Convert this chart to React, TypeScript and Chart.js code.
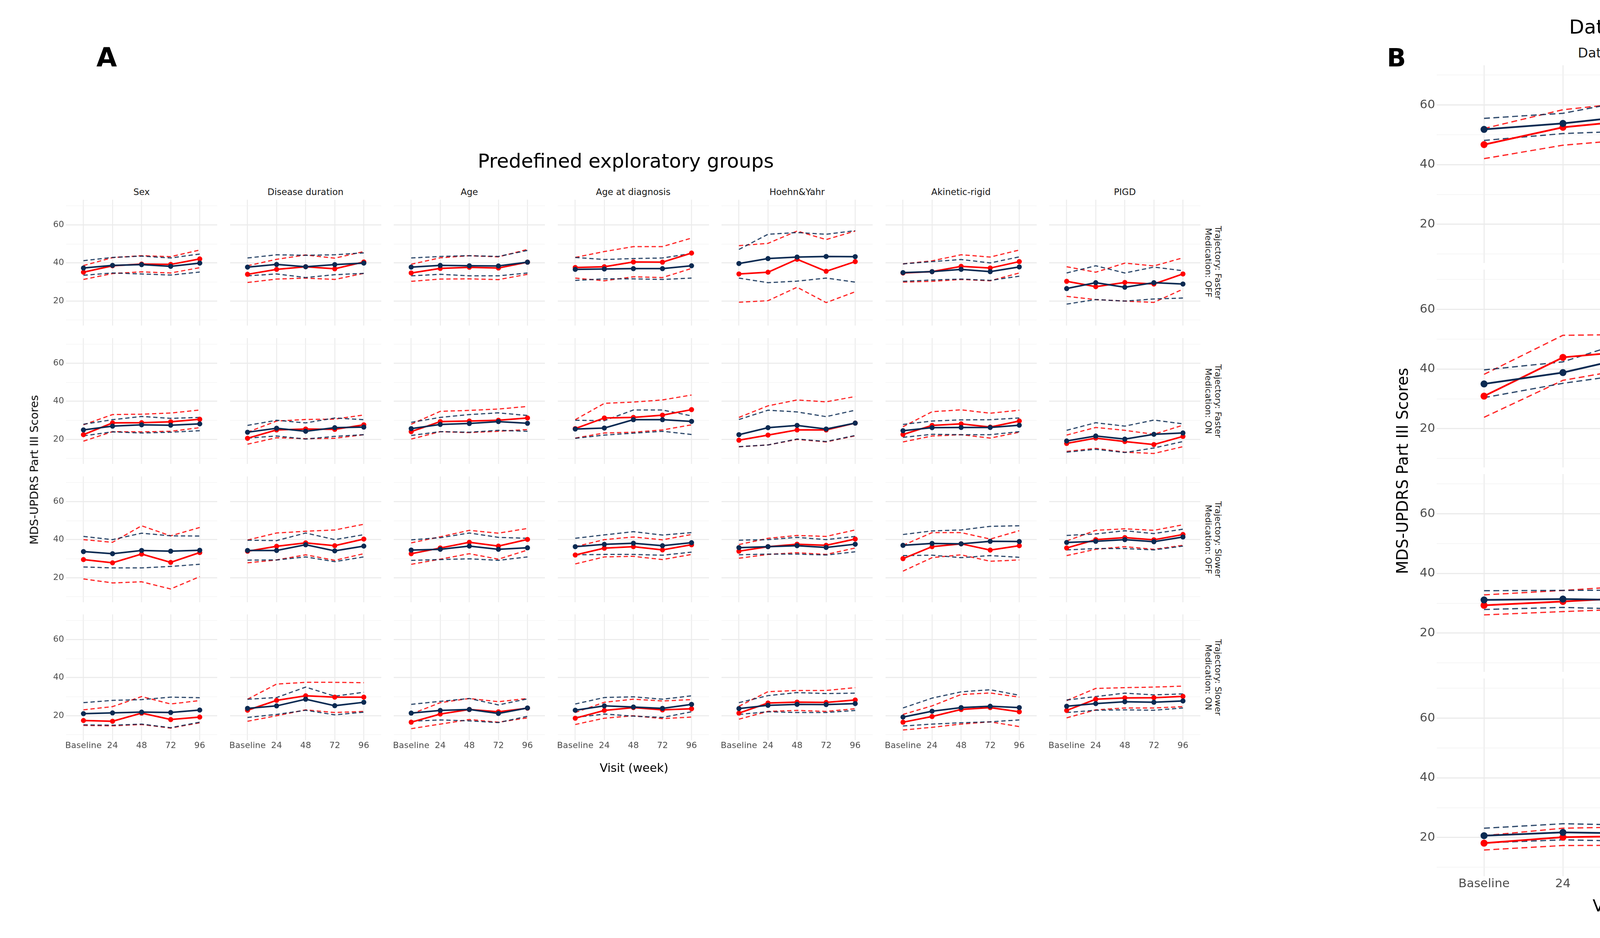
import React, { useEffect, useRef } from 'react';
import { Chart, registerables } from 'chart.js';

Chart.register(...registerables);
Chart.defaults.font.family = "'DejaVu Sans', sans-serif";

// ---------- labels ----------
const VISITS = ['Baseline', '24', '48', '72', '96'];
const Y_GRID = [10, 20, 30, 40, 50, 60, 70];
const Y_LABELS = [20, 40, 60];
const COL_LABELS = ['Sex', 'Disease duration', 'Age', 'Age at diagnosis', 'Hoehn&Yahr', 'Akinetic-rigid', 'PIGD'];
const ROW_LABELS = [
  ['Trajectory: Faster', 'Medication: OFF'],
  ['Trajectory: Faster', 'Medication: ON'],
  ['Trajectory: Slower', 'Medication: OFF'],
  ['Trajectory: Slower', 'Medication: ON'],
];
const Y_MIN = 7;
const Y_MAX = 73.3;

type Facet = { exe: number[]; exeLo: number[]; exeHi: number[]; pla: number[]; plaLo: number[]; plaHi: number[] };

// ---------- Panel A, row 1: Faster / OFF ----------
const SEX_F_OFF: Facet = { exe: [35.1, 38.5, 39.4, 39.2, 42.1], exeLo: [31.3, 34.4, 35.3, 34.7, 37.5], exeHi: [38.6, 42.8, 43.8, 43.3, 46.8], pla: [37.3, 38.7, 39.1, 38.2, 39.9], plaLo: [33.5, 34.7, 34.2, 33.6, 35.2], plaHi: [41.2, 42.9, 43.6, 42.6, 44.7] };
const DUR_F_OFF: Facet = { exe: [34.0, 36.6, 38.0, 36.9, 40.5], exeLo: [29.7, 31.5, 32.0, 31.3, 34.5], exeHi: [38.5, 41.9, 44.2, 42.5, 46.0], pla: [37.8, 39.2, 38.0, 39.1, 39.9], plaLo: [33.2, 34.2, 32.3, 33.8, 34.5], plaHi: [42.6, 44.3, 44.0, 44.3, 45.3] };
const AGE_F_OFF: Facet = { exe: [34.7, 37.1, 37.7, 37.3, 40.4], exeLo: [30.3, 31.5, 31.6, 31.2, 34.0], exeHi: [39.3, 42.7, 43.8, 43.2, 47.1], pla: [37.8, 38.7, 38.5, 38.4, 40.4], plaLo: [33.2, 34.0, 33.2, 33.2, 34.7], plaHi: [42.6, 43.4, 43.8, 43.4, 46.6] };
const AGED_F_OFF: Facet = { exe: [37.6, 38.0, 40.5, 40.4, 45.2], exeLo: [32.0, 30.6, 32.7, 32.3, 37.1], exeHi: [42.9, 46.0, 48.6, 48.6, 53.1], pla: [36.6, 36.8, 37.0, 37.0, 38.5], plaLo: [30.8, 31.6, 31.6, 31.3, 32.0], plaHi: [42.9, 41.8, 42.3, 42.6, 45.0] };
const HY_F_OFF: Facet = { exe: [34.2, 35.1, 41.9, 35.6, 40.7], exeLo: [19.3, 20.1, 27.2, 19.1, 24.8], exeHi: [49.1, 50.3, 56.8, 52.3, 56.8], pla: [39.7, 42.3, 43.1, 43.4, 43.3], plaLo: [32.0, 29.6, 30.4, 32.0, 29.9], plaHi: [47.1, 55.1, 56.0, 55.1, 57.0] };
const AR_F_OFF: Facet = { exe: [34.7, 35.4, 38.2, 37.3, 40.7], exeLo: [29.9, 30.3, 31.3, 30.6, 34.7], exeHi: [39.5, 41.1, 44.3, 43.1, 46.8], pla: [34.9, 35.4, 36.6, 35.4, 37.9], plaLo: [30.3, 31.0, 31.5, 30.8, 33.0], plaHi: [39.5, 40.7, 41.8, 40.0, 43.2] };
const PIGD_F_OFF: Facet = { exe: [30.3, 27.5, 29.7, 28.9, 34.2], exeLo: [22.4, 20.7, 19.9, 19.2, 26.2], exeHi: [38.0, 35.1, 39.9, 38.4, 42.7], pla: [26.5, 29.6, 27.2, 29.6, 28.9], plaLo: [18.3, 20.7, 19.9, 21.0, 21.5], plaHi: [34.7, 38.5, 34.7, 37.8, 35.9] };

// ---------- Panel A, row 2: Faster / ON ----------
const SEX_F_ON: Facet = { exe: [22.4, 28.6, 28.7, 29.2, 30.5], exeLo: [19.0, 24.0, 23.9, 24.2, 26.1], exeHi: [27.6, 33.0, 33.2, 33.8, 35.4], pla: [24.9, 26.9, 27.6, 27.4, 28.1], plaLo: [21.8, 23.9, 23.3, 23.7, 24.5], plaHi: [27.9, 30.3, 32.0, 31.0, 31.5] };
const DUR_F_ON: Facet = { exe: [20.5, 24.9, 25.4, 25.2, 27.6], exeLo: [17.4, 20.8, 20.3, 20.5, 22.4], exeHi: [23.7, 29.6, 30.4, 30.6, 32.8], pla: [23.7, 25.8, 24.2, 26.1, 26.4], plaLo: [20.6, 21.7, 20.1, 21.5, 22.4], plaHi: [27.3, 30.0, 28.6, 31.2, 30.3] };
const AGE_F_ON: Facet = { exe: [24.0, 29.3, 29.6, 30.0, 31.2], exeLo: [20.1, 24.0, 23.5, 24.2, 25.1], exeHi: [27.9, 34.7, 35.2, 35.9, 37.3], pla: [25.6, 27.8, 28.3, 29.3, 28.4], plaLo: [22.0, 24.0, 23.7, 24.7, 24.2], plaHi: [28.9, 31.5, 33.0, 33.9, 32.5] };
const AGED_F_ON: Facet = { exe: [25.6, 31.2, 31.5, 32.7, 35.6], exeLo: [20.6, 23.3, 23.7, 24.9, 27.6], exeHi: [30.3, 38.9, 39.6, 40.7, 43.3], pla: [25.4, 25.9, 30.3, 30.3, 29.4], plaLo: [20.5, 22.2, 23.2, 24.2, 22.5], plaHi: [30.0, 29.8, 35.4, 35.4, 32.3] };
const HY_F_ON: Facet = { exe: [19.5, 22.2, 24.9, 24.9, 28.5], exeLo: [16.0, 17.0, 19.9, 18.6, 21.8], exeHi: [31.5, 37.6, 40.7, 39.7, 42.5], pla: [22.4, 26.1, 27.3, 25.4, 28.5], plaLo: [16.1, 17.0, 20.1, 18.8, 22.0], plaHi: [30.4, 35.3, 34.4, 31.9, 35.3] };
const AR_F_ON: Facet = { exe: [22.5, 27.3, 28.1, 26.4, 29.6], exeLo: [18.6, 21.7, 22.4, 20.6, 23.7], exeHi: [26.6, 34.5, 35.5, 33.7, 35.3], pla: [24.5, 26.1, 26.2, 26.2, 27.4], plaLo: [21.0, 22.6, 22.4, 22.4, 24.0], plaHi: [27.8, 29.6, 30.2, 30.3, 31.2] };
const PIGD_F_ON: Facet = { exe: [17.8, 20.6, 18.8, 17.2, 21.5], exeLo: [13.6, 15.2, 13.2, 12.5, 16.1], exeHi: [22.2, 26.2, 24.7, 22.6, 27.4], pla: [19.1, 21.7, 20.1, 22.6, 23.3], plaLo: [13.2, 14.7, 13.0, 15.4, 18.8], plaHi: [24.7, 28.7, 26.9, 30.1, 28.1] };

// ---------- Panel A, row 3: Slower / OFF ----------
const SEX_S_OFF: Facet = { exe: [29.5, 27.8, 32.4, 28.0, 33.2], exeLo: [19.3, 17.2, 17.8, 14.0, 20.5], exeHi: [40.0, 38.6, 47.3, 42.0, 46.4], pla: [33.7, 32.6, 34.3, 33.9, 34.4], plaLo: [25.6, 25.1, 25.1, 25.9, 27.0], plaHi: [41.7, 40.0, 43.4, 42.0, 41.9] };
const DUR_S_OFF: Facet = { exe: [33.9, 36.5, 38.3, 36.8, 40.3], exeLo: [27.8, 29.3, 32.0, 29.1, 32.6], exeHi: [39.8, 43.5, 44.4, 45.1, 48.1], pla: [34.3, 34.3, 37.3, 34.1, 36.6], plaLo: [29.2, 29.3, 30.9, 28.4, 30.9], plaHi: [39.7, 39.5, 43.5, 40.0, 42.6] };
const AGE_S_OFF: Facet = { exe: [32.6, 35.6, 38.6, 36.6, 40.1], exeLo: [27.0, 29.7, 32.6, 29.7, 34.5], exeHi: [38.3, 41.5, 44.9, 43.4, 45.9], pla: [34.5, 34.9, 36.6, 34.9, 35.7], plaLo: [29.1, 29.5, 29.9, 29.1, 30.9], plaHi: [39.9, 41.0, 43.5, 41.2, 40.7] };
const AGED_S_OFF: Facet = { exe: [31.9, 35.5, 36.3, 34.6, 37.3], exeLo: [27.2, 30.9, 31.2, 29.5, 32.2], exeHi: [36.3, 40.0, 41.4, 39.9, 42.7], pla: [36.3, 37.5, 38.1, 36.8, 38.4], plaLo: [32.0, 32.2, 32.2, 31.8, 33.4], plaHi: [40.7, 42.5, 44.2, 42.4, 43.7] };
const HY_S_OFF: Facet = { exe: [33.9, 36.3, 37.6, 37.0, 40.3], exeLo: [30.2, 32.2, 33.1, 32.2, 35.6], exeHi: [37.4, 40.7, 42.2, 41.7, 45.1], pla: [35.8, 36.3, 36.8, 35.9, 37.6], plaLo: [32.0, 32.4, 32.4, 31.9, 33.6], plaHi: [39.7, 40.0, 41.2, 40.0, 41.7] };
const AR_S_OFF: Facet = { exe: [30.0, 36.3, 37.8, 34.5, 36.8], exeLo: [23.4, 30.5, 32.0, 28.6, 29.3], exeHi: [37.0, 43.7, 43.7, 40.3, 44.7], pla: [37.0, 38.0, 37.8, 39.1, 39.0], plaLo: [31.6, 31.8, 30.5, 31.6, 30.7], plaHi: [42.7, 44.6, 45.1, 47.0, 47.3] };
const PIGD_S_OFF: Facet = { exe: [35.6, 40.0, 41.1, 39.9, 42.7], exeLo: [31.6, 34.9, 36.3, 34.9, 37.0], exeHi: [39.3, 44.9, 45.7, 44.9, 47.8], pla: [38.5, 39.1, 40.0, 38.9, 41.4], plaLo: [34.6, 35.3, 35.3, 34.6, 36.6], plaHi: [42.2, 43.0, 44.7, 43.2, 45.5] };

// ---------- Panel A, row 4: Slower / ON ----------
const SEX_S_ON: Facet = { exe: [17.4, 17.0, 21.3, 17.9, 19.2], exeLo: [14.8, 14.6, 15.3, 13.4, 16.2], exeHi: [23.0, 24.7, 30.0, 26.1, 27.9], pla: [21.0, 21.4, 21.8, 21.6, 22.9], plaLo: [15.1, 14.9, 15.5, 13.6, 16.5], plaHi: [26.8, 28.0, 28.4, 29.7, 29.4] };
const DUR_S_ON: Facet = { exe: [22.8, 28.0, 30.4, 29.7, 29.7], exeLo: [17.0, 19.9, 23.0, 21.6, 22.2], exeHi: [28.6, 36.6, 37.5, 37.5, 37.3], pla: [23.8, 25.1, 28.6, 25.2, 27.0], plaLo: [19.0, 20.6, 22.8, 20.4, 21.8], plaHi: [28.6, 29.5, 35.0, 30.2, 32.3] };
const AGE_S_ON: Facet = { exe: [16.5, 20.8, 23.2, 22.0, 23.9], exeLo: [13.1, 15.5, 17.9, 16.5, 18.8], exeHi: [20.8, 26.8, 29.0, 27.3, 29.0], pla: [21.3, 22.7, 23.2, 21.1, 24.0], plaLo: [17.0, 17.7, 17.2, 16.3, 19.6], plaHi: [25.9, 27.5, 29.0, 25.6, 28.8] };
const AGED_S_ON: Facet = { exe: [18.6, 22.7, 24.2, 23.0, 23.6], exeLo: [15.3, 18.6, 19.9, 18.4, 19.2], exeHi: [21.6, 27.0, 28.6, 27.7, 28.4], pla: [22.8, 25.1, 24.5, 23.8, 25.9], plaLo: [19.0, 20.8, 19.7, 19.0, 22.0], plaHi: [26.1, 29.5, 29.9, 28.6, 30.4] };
const HY_S_ON: Facet = { exe: [21.3, 26.6, 27.1, 26.9, 28.2], exeLo: [18.1, 22.2, 22.7, 22.2, 23.6], exeHi: [24.9, 32.6, 33.2, 33.2, 34.7], pla: [23.7, 25.4, 25.9, 25.8, 26.3], plaLo: [20.6, 22.0, 21.6, 21.6, 22.7], plaHi: [26.8, 30.5, 32.1, 31.6, 31.8] };
const AR_S_ON: Facet = { exe: [16.5, 19.5, 23.2, 24.2, 22.0], exeLo: [12.4, 13.8, 15.5, 16.7, 14.2], exeHi: [20.6, 25.1, 31.1, 31.9, 29.7], pla: [19.2, 22.3, 24.2, 24.9, 24.2], plaLo: [14.5, 15.5, 16.2, 16.7, 17.7], plaHi: [24.0, 29.2, 32.5, 33.6, 30.7] };
const PIGD_S_ON: Facet = { exe: [22.7, 28.6, 29.3, 29.4, 30.1], exeLo: [18.8, 23.0, 24.0, 24.0, 24.7], exeHi: [27.9, 34.3, 34.7, 35.0, 35.5], pla: [24.9, 26.3, 27.3, 27.0, 27.7], plaLo: [21.6, 22.8, 23.0, 22.8, 24.0], plaHi: [28.2, 30.0, 31.8, 30.9, 31.4] };

// ---------- Panel B: data-driven cluster ----------
const B_F_OFF: Facet = { exe: [46.7, 52.5, 55.1, 57.6, 60.8], exeLo: [42.0, 46.5, 48.7, 53.1, 55.6], exeHi: [52.1, 58.4, 61.2, 62.1, 66.0], pla: [51.8, 53.8, 56.7, 54.6, 57.6], plaLo: [48.1, 50.4, 51.4, 49.0, 52.5], plaHi: [55.5, 57.2, 62.2, 60.2, 62.8] };
const B_F_ON: Facet = { exe: [30.9, 43.9, 46.3, 48.1, 49.4], exeLo: [23.8, 36.2, 40.8, 41.7, 43.7], exeHi: [38.2, 51.3, 51.6, 54.6, 54.9], pla: [35.0, 38.8, 44.9, 42.4, 43.6], plaLo: [30.4, 35.2, 38.9, 37.5, 39.7], plaHi: [39.7, 42.4, 50.9, 47.2, 47.5] };
const B_S_OFF: Facet = { exe: [29.3, 30.6, 32.0, 29.4, 33.1], exeLo: [26.1, 27.2, 28.2, 26.1, 29.7], exeHi: [32.8, 34.3, 36.0, 32.9, 36.5], pla: [31.1, 31.4, 31.0, 30.8, 31.9], plaLo: [27.9, 28.6, 27.9, 27.9, 29.5], plaHi: [34.2, 34.3, 34.4, 33.9, 34.6] };
const B_S_ON: Facet = { exe: [18.1, 20.1, 20.5, 19.5, 21.1], exeLo: [15.8, 17.3, 17.4, 17.1, 18.7], exeHi: [20.6, 23.1, 23.6, 21.9, 23.6], pla: [20.6, 21.7, 21.3, 21.1, 21.8], plaLo: [18.2, 19.2, 18.7, 18.4, 19.9], plaHi: [23.1, 24.6, 24.1, 23.9, 23.9] };

const PANEL_A: Facet[][] = [
  [SEX_F_OFF, DUR_F_OFF, AGE_F_OFF, AGED_F_OFF, HY_F_OFF, AR_F_OFF, PIGD_F_OFF],
  [SEX_F_ON, DUR_F_ON, AGE_F_ON, AGED_F_ON, HY_F_ON, AR_F_ON, PIGD_F_ON],
  [SEX_S_OFF, DUR_S_OFF, AGE_S_OFF, AGED_S_OFF, HY_S_OFF, AR_S_OFF, PIGD_S_OFF],
  [SEX_S_ON, DUR_S_ON, AGE_S_ON, AGED_S_ON, HY_S_ON, AR_S_ON, PIGD_S_ON],
];
const PANEL_B: Facet[] = [B_F_OFF, B_F_ON, B_S_OFF, B_S_ON];

// ---------- styling ----------
const RED = '#FF0000';
const NAVY = '#0B2A52';
const RED_CI = 'rgba(255,0,0,0.85)';
const NAVY_CI = 'rgba(11,42,82,0.85)';
const GRID = '#EBEBEB';

type Look = {
  tickFont: number; padY: number; padX: number; pointR: number; meanW: number; ciW: number;
  dash: number[]; majorW: number; minorW: number; vW: number; gutterB: number;
};

const LOOK_A: Look = { tickFont: 22, padY: 5, padX: 1, pointR: 6.5, meanW: 4, ciW: 3, dash: [11, 7], majorW: 2.7, minorW: 1.3, vW: 2.4, gutterB: 40 };
const LOOK_B: Look = { tickFont: 31, padY: 4, padX: 1, pointR: 9, meanW: 4.5, ciW: 3.2, dash: [15, 9], majorW: 3, minorW: 1.5, vW: 2.6, gutterB: 50 };

const GL = 70;
const PT = 24;
const PB = 24;
const PR = 10;

type FacetProps = { facet: Facet; left: number; top: number; w: number; h: number; showX: boolean; showY: boolean; look: Look };

function FacetChart({ facet, left, top, w, h, showX, showY, look }: FacetProps) {
  const ref = useRef<HTMLCanvasElement | null>(null);
  const GB = showX ? look.gutterB : 0;
  const cw = GL + w + PR;
  const ch = PT + h + GB + PB;
  useEffect(() => {
    if (!ref.current) return;
    const pts = (a: number[]) => a.map((y, i) => ({ x: i, y }));
    const mk = (label: string, data: number[], color: string, solid: boolean) => ({
      label,
      data: pts(data),
      borderColor: color,
      backgroundColor: color,
      borderWidth: solid ? look.meanW : look.ciW,
      borderDash: solid ? [] : look.dash,
      pointRadius: solid ? look.pointR : 0,
      pointBorderWidth: 0,
      pointHoverRadius: 0,
      tension: 0,
      fill: false,
    });
    const chart = new Chart(ref.current, {
      type: 'line',
      data: {
        datasets: [
          mk('Placebo', facet.pla, NAVY, true),
          mk('Exenatide', facet.exe, RED, true),
          mk('Placebo upper', facet.plaHi, NAVY_CI, false),
          mk('Placebo lower', facet.plaLo, NAVY_CI, false),
          mk('Exenatide upper', facet.exeHi, RED_CI, false),
          mk('Exenatide lower', facet.exeLo, RED_CI, false),
        ] as any,
      },
      options: {
        responsive: false,
        animation: false,
        devicePixelRatio: 1,
        events: [],
        layout: { padding: { left: 0, top: PT, right: PR, bottom: PB } },
        plugins: { legend: { display: false }, tooltip: { enabled: false } },
        scales: {
          x: {
            type: 'linear',
            min: -0.6,
            max: 4.6,
            afterBuildTicks: (s: any) => { s.ticks = VISITS.map((_, i) => ({ value: i })); },
            afterFit: (s: any) => { s.height = GB; },
            ticks: {
              display: showX,
              padding: look.padX,
              color: '#4D4D4D',
              font: { size: look.tickFont },
              maxRotation: 0,
              minRotation: 0,
              autoSkip: false,
              callback: (v: any) => VISITS[v as number],
            },
            grid: { color: GRID, lineWidth: look.vW, drawTicks: false },
            border: { display: false },
          },
          y: {
            type: 'linear',
            min: Y_MIN,
            max: Y_MAX,
            afterBuildTicks: (s: any) => { s.ticks = Y_GRID.map((v) => ({ value: v })); },
            afterFit: (s: any) => { s.width = GL; },
            ticks: {
              display: showY,
              padding: look.padY,
              color: '#4D4D4D',
              font: { size: look.tickFont },
              callback: (v: any) => (Y_LABELS.includes(v as number) ? String(v) : ''),
            },
            grid: {
              color: (c: any) => (c.tick && Y_LABELS.includes(c.tick.value) ? GRID : '#F2F2F2'),
              lineWidth: (c: any) => (c.tick && Y_LABELS.includes(c.tick.value) ? look.majorW : look.minorW),
              drawTicks: false,
            },
            border: { display: false },
          },
        },
      } as any,
    });
    return () => chart.destroy();
  }, []);
  return (
    <canvas
      ref={ref}
      width={cw}
      height={ch}
      style={{ position: 'absolute', left: left - GL, top: top - PT, width: cw, height: ch }}
    />
  );
}

type TextProps = { x: number; y: number; size: number; children: React.ReactNode; rotate?: number; bold?: boolean; color?: string; lineHeight?: number; align?: 'left' | 'center' };

function Label({ x, y, size, children, rotate = 0, bold = false, color = '#000', lineHeight = 1.15, align = 'center' }: TextProps) {
  const tr = align === 'center' ? `translate(-50%, -50%) rotate(${rotate}deg)` : 'translate(0, -50%)';
  return (
    <div
      style={{
        position: 'absolute',
        left: x,
        top: y,
        transform: tr,
        fontFamily: "'DejaVu Sans', sans-serif",
        fontSize: size,
        fontWeight: bold ? 'bold' : 'normal',
        color,
        whiteSpace: 'nowrap',
        lineHeight,
        textAlign: 'center',
      }}
    >
      {children}
    </div>
  );
}

// Panel geometry
const A_COL_LEFT = [169, 588.5, 1008, 1427.5, 1847, 2266.5, 2686];
const A_ROW_TOP = [511, 865, 1219, 1572];
const A_W = 387;
const A_H = 322;
const B_LEFT = 3678;
const B_W = 1050;
const B_ROW_TOP = [167, 690, 1213, 1736];
const B_H = 506;

export default function App() {
  return (
    <div style={{ position: 'absolute', left: 0, top: 0, width: 6000, height: 2400, background: '#fff', overflow: 'hidden' }}>
      {/* Panel A */}
      <Label x={273} y={147} size={68} bold>A</Label>
      <Label x={1602} y={413} size={50}>Predefined exploratory groups</Label>
      {COL_LABELS.map((c, j) => (
        <Label key={'c' + j} x={A_COL_LEFT[j] + A_W / 2} y={491} size={23} color="#1A1A1A">{c}</Label>
      ))}
      {ROW_LABELS.map((r, i) => (
        <Label key={'r' + i} x={3106} y={A_ROW_TOP[i] + A_H / 2} size={22} rotate={90} color="#1A1A1A">
          {r[0]}<br />{r[1]}
        </Label>
      ))}
      {PANEL_A.map((row, i) =>
        row.map((f, j) => (
          <FacetChart
            key={`a${i}-${j}`}
            facet={f}
            left={A_COL_LEFT[j]}
            top={A_ROW_TOP[i]}
            w={A_W}
            h={A_H}
            showX={i === 3}
            showY={j === 0}
            look={LOOK_A}
          />
        ))
      )}
      <Label x={88} y={1202} size={29} rotate={-90}>MDS-UPDRS Part III Scores</Label>
      <Label x={1623} y={1965} size={30}>Visit (week)</Label>

      {/* Panel B */}
      <Label x={4397} y={70} size={50}>Data-driven exploratory group</Label>
      <Label x={3575} y={149} size={64} bold>B</Label>
      <Label x={B_LEFT + B_W / 2} y={136} size={34} color="#1A1A1A">Data-driven cluster</Label>
      {ROW_LABELS.map((r, i) => (
        <Label key={'br' + i} x={4775} y={B_ROW_TOP[i] + B_H / 2} size={30} rotate={90} lineHeight={1.1} color="#1A1A1A">
          {r[0]}<br />{r[1]}
        </Label>
      ))}
      {PANEL_B.map((f, i) => (
        <FacetChart
          key={'b' + i}
          facet={f}
          left={B_LEFT}
          top={B_ROW_TOP[i]}
          w={B_W}
          h={B_H}
          showX={i === 3}
          showY={true}
          look={LOOK_B}
        />
      ))}
      <Label x={3590} y={1205} size={40} rotate={-90}>MDS-UPDRS Part III Scores</Label>
      <Label x={4203} y={2318} size={43}>Visit (week)</Label>

      {/* Legend */}
      <Label x={4857} y={1130} size={42} align="left">Treatment Group</Label>
      {[
        { name: 'Exenatide', color: RED, y: 1195 },
        { name: 'Placebo', color: NAVY, y: 1262 },
      ].map((k) => (
        <React.Fragment key={k.name}>
          <div style={{ position: 'absolute', left: 4857, top: k.y - 4.5, width: 60, height: 9, background: k.color }} />
          <div style={{ position: 'absolute', left: 4878, top: k.y - 9, width: 18, height: 18, borderRadius: '50%', background: k.color }} />
          <Label x={4937} y={k.y} size={32} align="left">{k.name}</Label>
        </React.Fragment>
      ))}
    </div>
  );
}
